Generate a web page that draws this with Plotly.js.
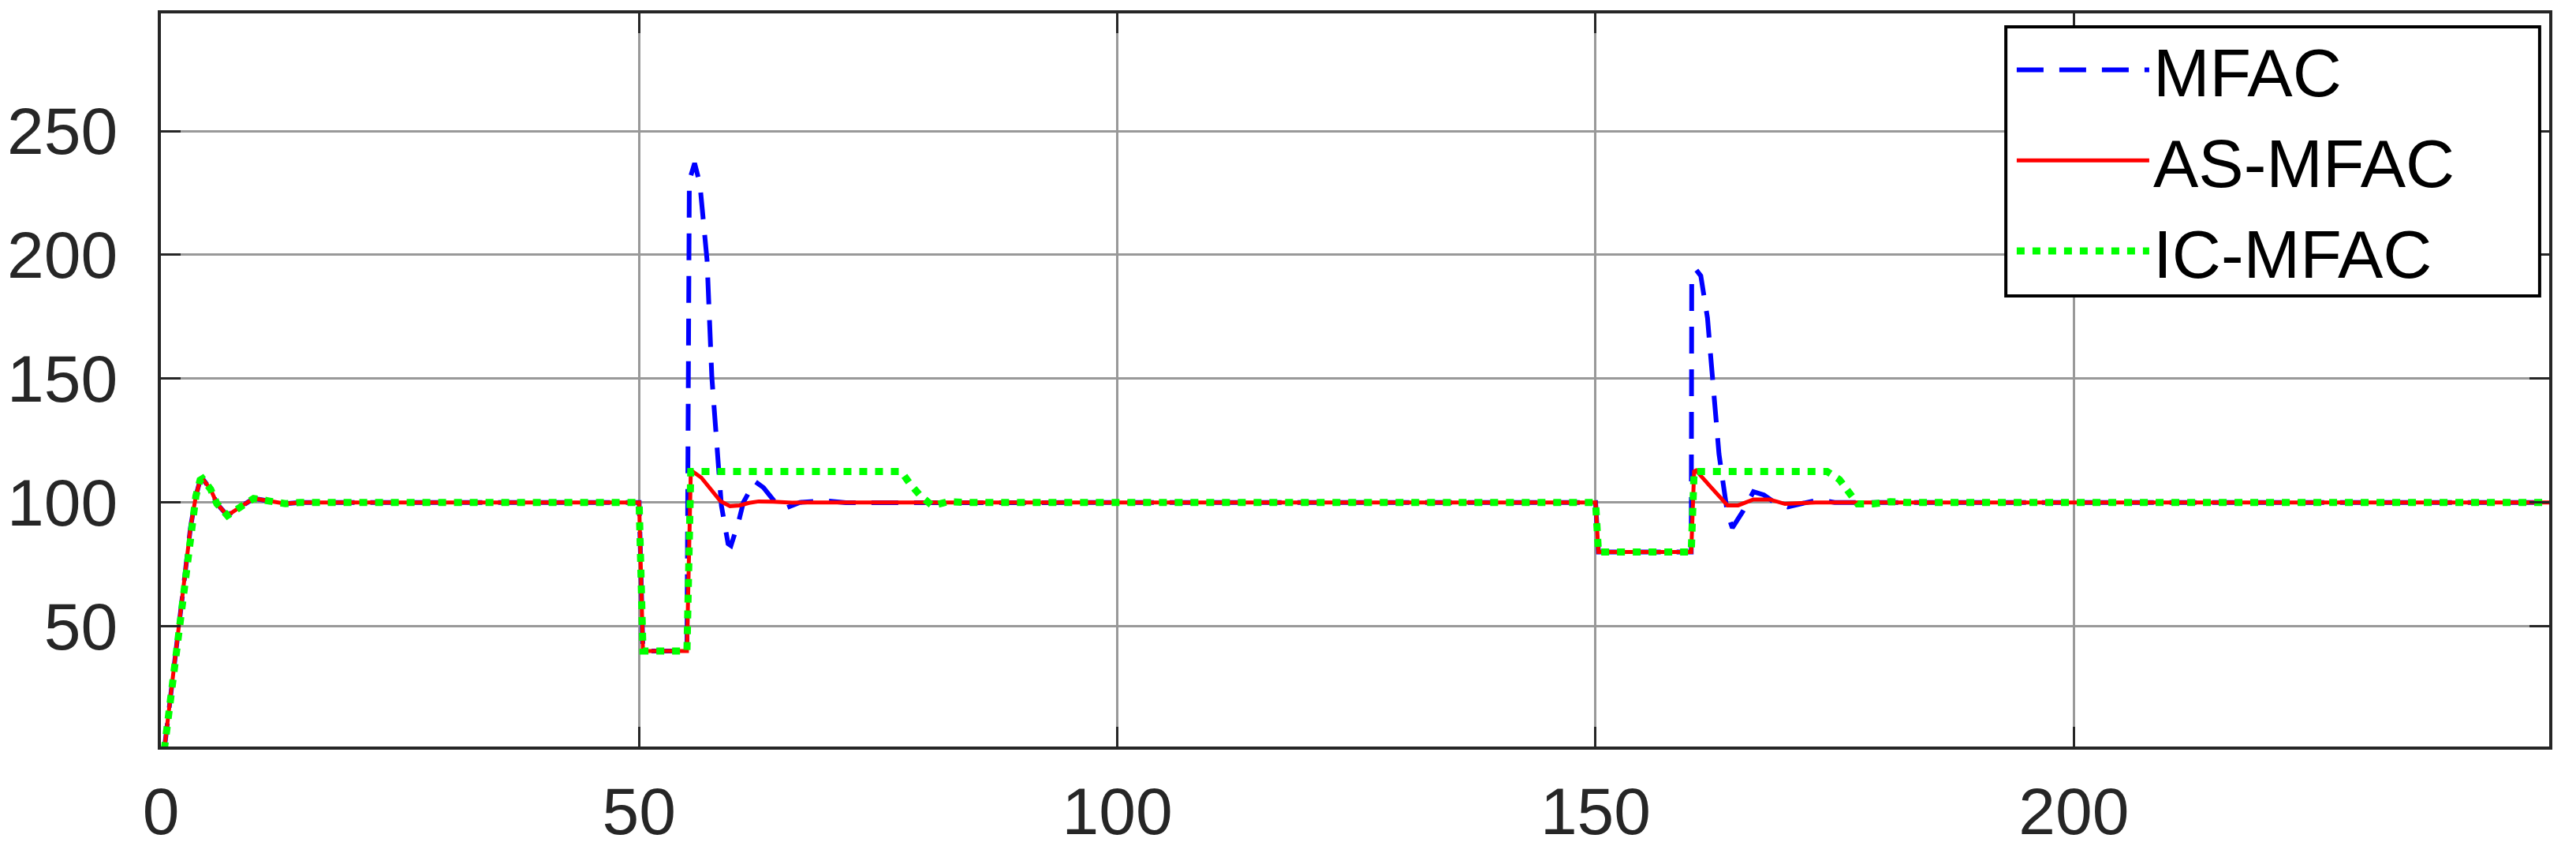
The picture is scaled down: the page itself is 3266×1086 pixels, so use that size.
<!DOCTYPE html>
<html>
<head>
<meta charset="utf-8">
<script src="https://cdn.plot.ly/plotly-3.0.1.min.js"></script>
<style>
  html, body { margin: 0; padding: 0; background: #fff; }
  #chart { width: 3266px; height: 1086px; }
</style>
</head>
<body>
<div id="chart"></div>
<script>
// values (time step, output)
var tMFAC = [0.35, 3.1, 3.66, 4.1, 4.35, 5.2, 5.85, 6.95, 8.2, 9.7, 11.4, 13, 14.6, 50, 50.4, 55, 55.25, 55.8, 56.35, 57.1, 57.6,
             58.2, 58.6, 59.3, 59.6, 60.4, 60.9, 62.1, 63, 64.5, 65.4, 66.8, 69.4, 71.6, 150, 150.3, 160, 160.05, 160.5, 161,
             161.7, 162.1, 162.5, 162.9, 163.4, 163.8, 164.3, 165.4, 166.5, 167.6, 168.7, 170.1, 171.5, 173.4, 175, 249.7];
var yMFAC = [0, 90, 102.6, 109, 109.6, 105.3, 99.5, 94.7, 97.9, 101.6, 100.5, 99.5, 100, 100, 40, 40, 230, 237, 228.7, 197.9, 150.7,
             116.5, 98.7, 83.3, 82.5, 92.2, 100, 108.5, 106, 98.7, 97.8, 100, 100.7, 99.9, 100, 80, 80, 189, 194, 191.5,
             174.5, 156, 137.8, 119.6, 106, 95.2, 89.7, 96.4, 104.3, 103, 100, 98.2, 99.5, 101, 100, 100];

var tAS = [0.35, 3.1, 3.66, 4.1, 4.35, 5.2, 5.85, 6.95, 8.2, 9.7, 11.4, 13, 14.6, 50, 50.4, 55, 55.4, 55.6, 56.5, 57.5,
           58.5, 59.5, 60.5, 61.5, 62.5, 64, 66, 68, 150, 150.3, 160, 160.3, 160.5, 162.1, 163.8, 164.9, 166.5, 168.2,
           169.8, 171.5, 173, 249.7];
var yAS = [0, 90, 102.6, 109, 109.6, 105.3, 99.5, 94.7, 97.9, 101.6, 100.5, 99.5, 100, 100, 40, 40, 112, 112.5, 110, 105,
           100.5, 98.5, 98.8, 99.8, 100.4, 100.3, 99.9, 100, 100, 80, 80, 112.5, 112.9, 106, 98.8, 98.8, 101.2, 101.2,
           99.4, 99.7, 100, 100];

var tIC = [0.35, 3.1, 3.66, 4.1, 4.35, 5.2, 5.85, 6.95, 8.2, 9.7, 11.4, 13, 14.6, 50, 50.4, 55, 55.4, 77.4, 78.3, 79.4,
           80.65, 82.3, 84, 150, 150.3, 160, 160.3, 174.2, 175.5, 176.4, 177.4, 179, 180.8, 182.5, 249.7];
var yIC = [0, 90, 102.6, 109, 109.6, 105.3, 99.5, 94.7, 97.9, 101.6, 100.5, 99.5, 100, 100, 40, 40, 112.5, 112.5, 107.6, 102.7,
           98.7, 100.3, 100, 100, 80, 80, 112.5, 112.5, 109.2, 104.3, 99.4, 99.4, 100.3, 100, 100];

var seriesNames = ['MFAC', 'AS-MFAC', 'IC-MFAC'];
var xTicks = [0, 50, 100, 150, 200];
var yTicks = [50, 100, 150, 200, 250];

var axisColor = '#262626';
var tickFont = { family: 'Liberation Sans, Arial, sans-serif', size: 84, color: axisColor };

var plotlyData = [
    {
        x: tMFAC,
        y: yMFAC,
        type: 'scatter',
        mode: 'lines',
        name: seriesNames[0],
        line: { color: '#0000ff', width: 6, dash: '34px,20px' }
    },
    {
        x: tAS,
        y: yAS,
        type: 'scatter',
        mode: 'lines',
        name: seriesNames[1],
        line: { color: '#ff0000', width: 5 }
    },
    {
        x: tIC,
        y: yIC,
        type: 'scatter',
        mode: 'lines',
        name: seriesNames[2],
        line: { color: '#00ff00', width: 9, dash: '10px,10px' }
    }
];

var plotlyLayout = {
    width: 3266,
    height: 1086,
    margin: { l: 204, r: 34, t: 17, b: 140, pad: 0 },
    paper_bgcolor: '#ffffff',
    plot_bgcolor: '#ffffff',
    showlegend: true,
    xaxis: {
        range: [0, 249.7],
        tickvals: xTicks,
        ticktext: xTicks.map(String),
        ticks: 'inside',
        ticklen: 25,
        tickwidth: 3,
        tickcolor: axisColor,
        showline: true,
        linecolor: axisColor,
        linewidth: 4,
        mirror: 'ticks',
        showgrid: true,
        gridcolor: '#999999',
        gridwidth: 3,
        zeroline: false,
        tickfont: tickFont,
        ticklabelstandoff: 6
    },
    yaxis: {
        range: [1.4, 297.5],
        tickvals: yTicks,
        ticktext: yTicks.map(String),
        ticks: 'inside',
        ticklen: 25,
        tickwidth: 3,
        tickcolor: axisColor,
        showline: true,
        linecolor: axisColor,
        linewidth: 4,
        mirror: 'ticks',
        showgrid: true,
        gridcolor: '#999999',
        gridwidth: 3,
        zeroline: false,
        tickfont: tickFont,
        ticklabelstandoff: 34
    },
    // white legend frame that hides the lines under it
    shapes: [
        {
            type: 'rect',
            xref: 'paper',
            yref: 'paper',
            x0: 0.7725,
            x1: 0.9960,
            y0: 0.6146,
            y1: 0.9817,
            layer: 'above',
            fillcolor: '#ffffff',
            line: { color: '#000000', width: 4 }
        }
    ],
    legend: {
        x: 0.7754,
        xanchor: 'left',
        y: 0.9903,
        yanchor: 'top',
        bgcolor: 'rgba(0,0,0,0)',
        borderwidth: 0,
        itemwidth: 168,
        tracegroupgap: 0,
        font: { family: 'Liberation Sans, Arial, sans-serif', size: 86, color: '#000000' }
    }
};

var plotlyConfig = {
    displayModeBar: false,
    responsive: false
};

Plotly.newPlot('chart', plotlyData, plotlyLayout, plotlyConfig);
</script>
</body>
</html>
